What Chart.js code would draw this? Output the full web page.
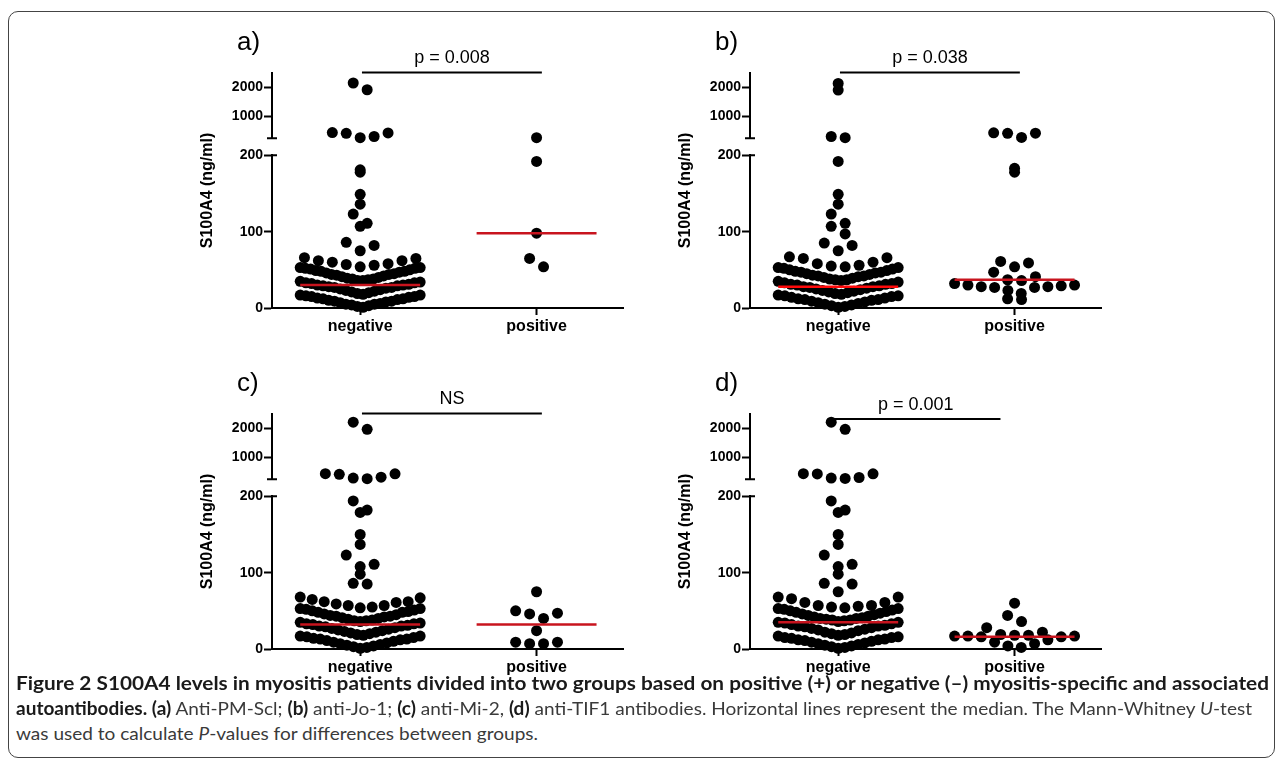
<!DOCTYPE html>
<html>
<head>
<meta charset="utf-8">
<script src="https://cdn.jsdelivr.net/npm/chart.js@4.4.0/dist/chart.umd.min.js"></script>
<style>
  body { margin: 0; background: #fff; width: 1282px; height: 774px; position: relative; overflow: hidden; }
  #frame { position: absolute; left: 8px; top: 11px; width: 1265px; height: 745px; border: 1.5px solid #444; border-radius: 10px; }
  canvas { position: absolute; }
  .cap { position: absolute; left: 16px; white-space: nowrap; font-family: Lato, "Open Sans", sans-serif; font-size: 18px; line-height: 22px; color: #3a3a3a; transform-origin: 0 0; }
  .cap b { color: #1a1a1a; font-weight: 700; }
</style>
</head>
<body>
<div id="frame"></div>
<canvas id="pa" width="490" height="320" style="left:150px;top:20px"></canvas>
<canvas id="pb" width="490" height="320" style="left:628px;top:20px"></canvas>
<canvas id="pc" width="490" height="320" style="left:150px;top:361px"></canvas>
<canvas id="pd" width="490" height="320" style="left:628px;top:361px"></canvas>
<div class="cap" id="cap1" style="top:672px"><b>Figure 2 S100A4 levels in myositis patients divided into two groups based on positive (+) or negative (–) myositis-specific and associated</b></div>
<div class="cap" id="cap2" style="top:697px"><b>autoantibodies. (a)</b> Anti-PM-Scl; <b>(b)</b> anti-Jo-1; <b>(c)</b> anti-Mi-2, <b>(d)</b> anti-TIF1 antibodies. Horizontal lines represent the median. The Mann-Whitney <i>U</i>-test</div>
<div class="cap" id="cap3" style="top:722px">was used to calculate <i>P</i>-values for differences between groups.</div>
<script>
// groups and labels
const groups = ['negative', 'positive'];
const panelTags = ['a)', 'b)', 'c)', 'd)'];
const pTexts = ['p = 0.008', 'p = 0.038', 'NS', 'p = 0.001'];
const yTitle = 'S100A4 (ng/ml)';
const lowTicks = [0, 100, 200];
const highTicks = [1000, 2000];

// S100A4 values (ng/ml)
const negA = [2140, 1910, 455, 440, 430, 320, 280,
  181, 178, 149, 136, 123, 111, 107, 86, 82, 75, 66, 65, 62, 62, 60, 58, 57, 56,
  54, 53, 53, 52, 52, 51, 50, 49, 48, 48, 47, 46, 45, 44, 44, 43, 42, 41, 40,
  39, 38, 38, 37, 36, 36, 35, 34, 33, 33, 32, 31, 30, 30, 29, 29, 28, 27, 27, 26, 25, 24, 23, 22, 21,
  20, 19, 18, 17, 17, 16, 15, 15, 14, 13, 12, 12, 11, 10, 9, 9, 8, 7, 6, 5, 5, 4, 3, 2, 1];
const posA = [280, 192, 98, 65, 54];

const negB = [2125, 1900, 320, 280,
  192, 149, 136, 123, 111, 107, 97, 85, 82, 75, 67, 66, 65, 60, 58, 56, 55, 54,
  53, 53, 52, 51, 50, 49, 48, 47, 47, 46, 45, 44, 43, 42, 42, 41, 40,
  39, 38, 37, 37, 36, 35, 34, 33, 32, 31, 31, 30, 29, 28, 28, 27, 26, 25, 24, 23, 22, 21,
  20, 19, 18, 17, 16, 16, 15, 14, 13, 12, 11, 11, 10, 9, 8, 7, 6, 5, 4, 3, 2, 1];
const posB = [445, 435, 430, 290, 183, 178, 61, 59, 54, 47, 41, 37, 36, 32,
  30, 30, 29, 28, 28, 27, 27, 23, 19, 12, 11];

const negC = [2200, 1960, 450, 445, 430, 330, 300, 280,
  194, 182, 179, 150, 137, 123, 111, 108, 98, 86, 85, 68, 67, 65, 62, 62, 61, 59, 57, 57, 55,
  54, 53, 53, 52, 51, 50, 49, 48, 48, 46, 45, 44, 43, 43, 42, 41, 40,
  39, 38, 37, 37, 36, 35, 34, 33, 33, 32, 31, 30, 30, 29, 28, 27, 26, 25, 24, 23, 22, 21,
  20, 19, 18, 17, 17, 16, 15, 14, 13, 13, 12, 11, 10, 9, 8, 7, 6, 5, 4, 3, 2, 1];
const posC = [75, 50, 47, 46, 40, 24, 9, 9, 7, 7];

const negD = [2200, 1960, 450, 445, 440, 320, 300, 290,
  194, 182, 179, 150, 137, 123, 111, 108, 98, 86, 85, 75, 68, 68, 66, 61, 61, 57, 57, 56, 55,
  54, 53, 53, 52, 51, 50, 49, 48, 47, 46, 45, 44, 43, 42, 41, 40, 40,
  39, 38, 38, 37, 36, 35, 35, 34, 33, 32, 31, 30, 30, 29, 28, 27, 26, 25, 24, 22, 21,
  20, 19, 18, 17, 16, 15, 15, 14, 13, 12, 12, 11, 10, 9, 8, 7, 6, 5, 4, 3, 2, 1];
const posD = [60, 44, 36, 28, 22, 19, 18, 18, 17, 17, 17, 16, 16, 12, 9, 7, 4, 2];

// medians (red lines) and the significance bars
const medNeg = [30, 28, 32, 35];
const medPos = [98, 37, 32, 16];
const barY = [2500, 2500, 2500, 2310];
const barX = [[1.01, 2.03], [1.01, 2.03], [1.01, 2.03], [0.96, 1.92]];

Chart.defaults.font.family = '"Liberation Sans", Arial, sans-serif';
Chart.defaults.color = '#000';

// prism-like rows: values binned, lowest one in the middle, others spread out sideways
function swarm(vals, centre, high) {
  const binW = high ? 476 : 18;
  const bins = {};
  vals.forEach(v => {
    const k = Math.floor(v / binW);
    (bins[k] = bins[k] || []).push(v);
  });
  const pts = [];
  Object.values(bins).forEach(row => {
    row.sort((p, q) => p - q);
    const n = row.length;
    const step = Math.min(0.079, 0.68 / Math.max(n - 1, 1));
    row.forEach((v, i) => {
      let slot;
      if (n % 2) slot = i === 0 ? 0 : (i % 2 ? 1 : -1) * Math.ceil(i / 2);
      else slot = (i % 2 ? -1 : 1) * (Math.floor(i / 2) + 0.5);
      pts.push({x: centre + slot * step, y: v});
    });
  });
  return pts;
}

const decor = {
  id: 'decor',
  afterDraw(chart, args, o) {
    const {ctx, chartArea: ca, scales} = chart;
    const xs = scales.x, yh = scales.yHigh, yl = scales.yLow;
    ctx.save();
    ctx.fillStyle = '#000';
    ctx.strokeStyle = '#000';
    // panel letter
    ctx.font = '26px "Liberation Sans"';
    ctx.textAlign = 'left';
    ctx.textBaseline = 'alphabetic';
    ctx.fillText(o.tag, ca.left - 35, ca.top - 23);
    // p value over the bar
    ctx.font = '18px "Liberation Sans"';
    ctx.textAlign = 'center';
    const mid = (xs.getPixelForValue(o.bx[0]) + xs.getPixelForValue(o.bx[1])) / 2;
    ctx.fillText(o.p, mid, yh.getPixelForValue(o.by) - 9);
    // axis break caps
    ctx.lineWidth = 2;
    ctx.beginPath();
    ctx.moveTo(ca.left - 5, yh.bottom); ctx.lineTo(ca.left + 5, yh.bottom);
    ctx.moveTo(ca.left, yl.top); ctx.lineTo(ca.left + 5, yl.top);
    ctx.stroke();
    // y title
    ctx.translate(ca.left - 64, (ca.top + ca.bottom) / 2);
    ctx.rotate(-Math.PI / 2);
    ctx.font = 'bold 16px "Liberation Sans"';
    ctx.textBaseline = 'middle';
    ctx.fillText(yTitle, 0, 0);
    ctx.restore();
  }
};

function yAxis(weight, min, max, ticks) {
  return {
    type: 'linear', position: 'left', stack: 'left', stackWeight: weight,
    min: min, max: max,
    afterBuildTicks: s => { s.ticks = ticks.map(v => ({value: v})); },
    afterFit: s => { s.width = 70; },
    ticks: {callback: v => String(v), font: {weight: 'bold', size: 14}, color: '#000', padding: 1},
    grid: {drawOnChartArea: false, tickLength: 8, tickWidth: 2, tickColor: '#000'},
    border: {color: '#000', width: 2}
  };
}

function makePanel(id, i, neg, pos) {
  const dot = {type: 'scatter', backgroundColor: '#000', borderColor: '#000', pointRadius: 5.5,
    borderWidth: 0, clip: false, order: 2};
  const datasets = [];
  [[neg, 1], [pos, 2]].forEach(([vals, c]) => {
    datasets.push({...dot, yAxisID: 'yLow', data: swarm(vals.filter(v => v <= 200), c, false)});
    datasets.push({...dot, yAxisID: 'yHigh', data: swarm(vals.filter(v => v > 200), c, true)});
  });
  [[medNeg[i], 1], [medPos[i], 2]].forEach(([m, c], k) => {
    datasets.push({
      type: 'line', yAxisID: 'yLow', order: 0, clip: false,
      borderColor: (i === 1 && k === 0) ? '#ff0a0a' : '#c8141e', borderWidth: 2.5, pointRadius: 0,
      data: [{x: c - 0.34, y: m}, {x: c + 0.34, y: m}]
    });
  });
  datasets.push({
    type: 'line', yAxisID: 'yHigh', order: 1, clip: false,
    borderColor: '#000', borderWidth: 2, pointRadius: 0,
    data: [{x: barX[i][0], y: barY[i]}, {x: barX[i][1], y: barY[i]}]
  });

  return new Chart(document.getElementById(id), {
    type: 'scatter',
    data: {datasets: datasets},
    options: {
      responsive: false,
      animation: false,
      devicePixelRatio: 1,
      events: [],
      layout: {padding: {left: 52, top: 53, right: 17, bottom: 2}},
      plugins: {
        legend: {display: false},
        tooltip: {enabled: false},
        decor: {tag: panelTags[i], p: pTexts[i], bx: barX[i], by: barY[i]}
      },
      scales: {
        x: {
          type: 'linear', min: 0.5, max: 2.49,
          afterBuildTicks: s => { s.ticks = [{value: 1}, {value: 2}]; },
          afterFit: s => { s.height = 30; },
          ticks: {callback: v => groups[v - 1], color: '#000', font: {weight: 'bold', size: 16},
            padding: 2, maxRotation: 0, autoSkip: false},
          grid: {drawOnChartArea: false, tickLength: 7, tickWidth: 2, tickColor: '#000'},
          border: {color: '#000', width: 2}
        },
        // stacked scales are laid out bottom-up in this order
        yLow: yAxis(152, 0, 200, lowTicks),
        yGap: {type: 'linear', position: 'left', stack: 'left', stackWeight: 17, display: false},
        yHigh: yAxis(65, 260, 2480, highTicks)
      }
    },
    plugins: [decor]
  });
}

makePanel('pa', 0, negA, posA);
makePanel('pb', 1, negB, posB);
makePanel('pc', 2, negC, posC);
makePanel('pd', 3, negD, posD);

// stretch caption lines to the printed width
function fitCaption() {
  const c1 = document.getElementById('cap1');
  const c2 = document.getElementById('cap2');
  const c3 = document.getElementById('cap3');
  const s1 = 1253 / c1.getBoundingClientRect().width;
  const s2 = 1236 / c2.getBoundingClientRect().width;
  c1.style.transform = 'scaleX(' + s1 + ')';
  c2.style.transform = 'scaleX(' + s2 + ')';
  c3.style.transform = 'scaleX(' + s2 + ')';
}
fitCaption();
</script>
</body>
</html>
